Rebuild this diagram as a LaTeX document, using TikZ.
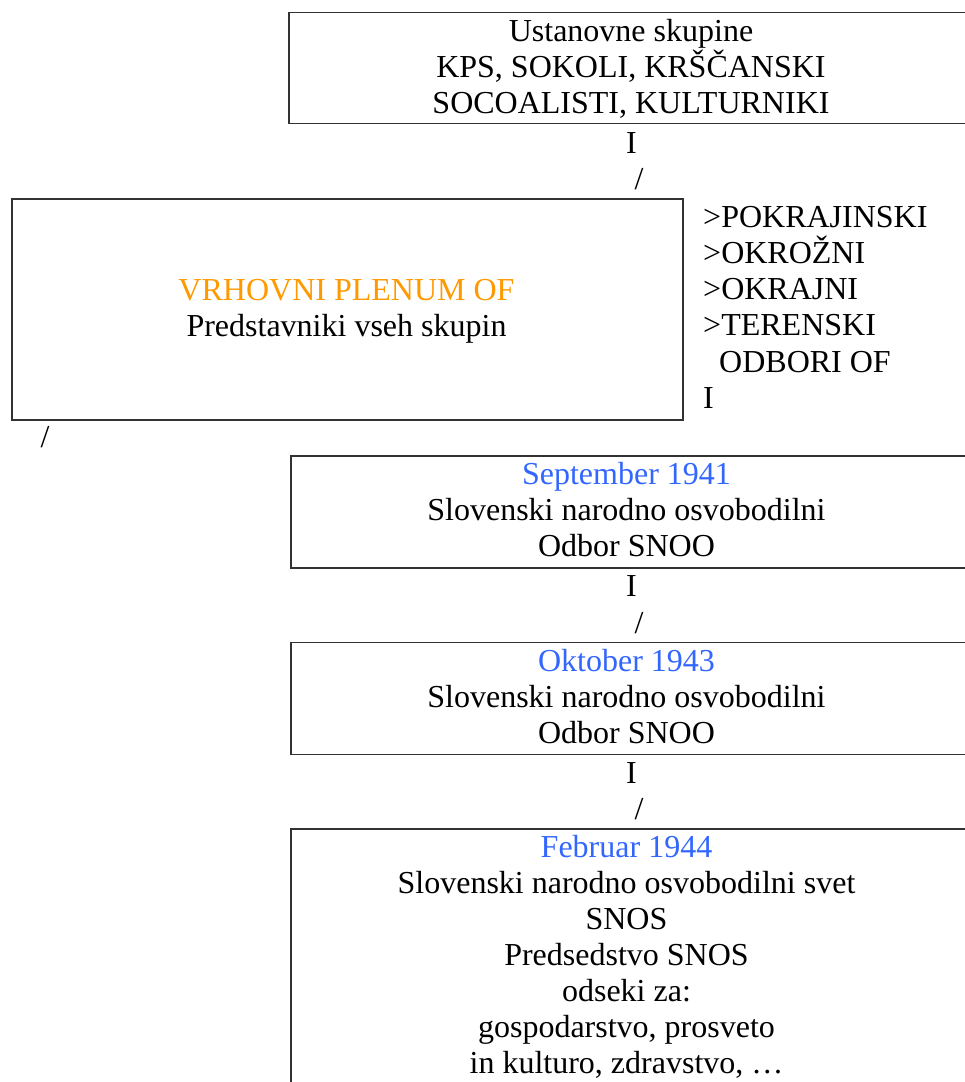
\documentclass[tikz,border=0pt]{standalone}
\usepackage{fontspec}
\setmainfont{Liberation Serif}
\definecolor{orangeT}{RGB}{255,153,0}
\definecolor{blueT}{RGB}{51,102,255}
\definecolor{edge}{RGB}{50,50,50}
\begin{document}
\begin{tikzpicture}[x=1pt,y=-1pt,
  box/.style={draw=edge, line width=1.5pt, inner sep=0pt, anchor=north west},
  txt/.style={inner sep=0pt, anchor=base, font=\fontsize{32}{36}\selectfont},
  ltxt/.style={txt, anchor=base west},
  hl/.style={txt, text=orangeT},
  dt/.style={txt, text=blueT}]
\useasboundingbox (0,0) rectangle (965,1082);
\clip (0,0) rectangle (965,1082);
% boxes
\node[box, minimum width=700pt, minimum height=111pt] (b1) at (288,11.5) {};
\node[box, minimum width=671pt, minimum height=221pt] (b2) at (11,198) {};
\node[box, minimum width=700pt, minimum height=112pt] (b3) at (290,455) {};
\node[box, minimum width=700pt, minimum height=112pt] (b4) at (290,641.5) {};
\node[box, minimum width=700pt, minimum height=400pt] (b5) at (290,828) {};
% top box
\node[txt] (t1) at (631,41) {Ustanovne skupine};
\node[txt] (t2) at (631,77) {KPS, SOKOLI, KRŠČANSKI};
\node[txt] (t3) at (631,113) {SOCOALISTI, KULTURNIKI};
\node[txt] (i1) at (631.5,153) {I};
\node[txt] (s1) at (639,189.5) {/};
% plenum
\node[hl] (p1) at (346.5,300) {VRHOVNI PLENUM OF};
\node[txt] (p2) at (346.5,336.5) {Predstavniki vseh skupin};
% right list
\node[ltxt] (r1) at (703,227) {>POKRAJINSKI};
\node[ltxt] (r2) at (703,263) {>OKROŽNI};
\node[ltxt] (r3) at (703,299.5) {>OKRAJNI};
\node[ltxt] (r4) at (703,335.5) {>TERENSKI};
\node[ltxt] (r5) at (703,372) {\hspace*{16pt}ODBORI OF};
\node[ltxt] (r6) at (703,408) {I};
\node[txt] (s0) at (45,447.5) {/};
% September
\node[dt] (a1) at (626.5,484.5) {September 1941};
\node[txt] (a2) at (626.5,520.5) {Slovenski narodno osvobodilni};
\node[txt] (a3) at (626.5,556.5) {Odbor SNOO};
\node[txt] (i2) at (631.5,596.5) {I};
\node[txt] (s2) at (639,633) {/};
% Oktober
\node[dt] (c1) at (626.5,671) {Oktober 1943};
\node[txt] (c2) at (626.5,707) {Slovenski narodno osvobodilni};
\node[txt] (c3) at (626.5,743) {Odbor SNOO};
\node[txt] (i3) at (631.5,783) {I};
\node[txt] (s3) at (639,819.5) {/};
% Februar
\node[dt] (d1) at (626.5,857.5) {Februar 1944};
\node[txt] (d2) at (626.5,893.5) {Slovenski narodno osvobodilni svet};
\node[txt] (d3) at (626.5,929.5) {SNOS};
\node[txt] (d4) at (626.5,965.5) {Predsedstvo SNOS};
\node[txt] (d5) at (626.5,1001.5) {odseki za:};
\node[txt] (d6) at (626.5,1037.5) {gospodarstvo, prosveto};
\node[txt] (d7) at (626.5,1073.5) {in kulturo, zdravstvo, …};
\end{tikzpicture}
\end{document}
